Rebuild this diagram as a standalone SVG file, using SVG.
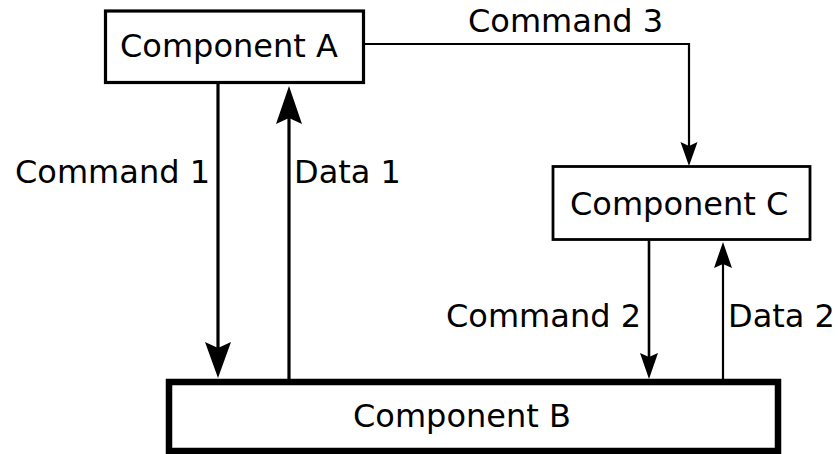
<svg xmlns="http://www.w3.org/2000/svg" width="838" height="454" viewBox="0 0 838 454">
<style>
text{font-family:"DejaVu Sans","Verdana",sans-serif;font-size:32px;fill:#000}
.box{fill:#fff;stroke:#000}
.ln{fill:none;stroke:#000}
</style>
<rect width="838" height="454" fill="#fff"/>
<g id="connectors">
  <path class="ln" d="M218,83 V350" stroke-width="3.2"/>
  <polygon points="218,378 205,342 218,348 231,342"/>
  <path class="ln" d="M289,380 V115" stroke-width="3.2"/>
  <polygon points="289,86 276,124 289,118 302,124"/>
  <path class="ln" d="M364,44 H689 V150" stroke-width="2.2"/>
  <polygon points="689,166 680.5,142 689,146 697.5,142"/>
  <path class="ln" d="M649,240 V360" stroke-width="2.6"/>
  <polygon points="649,379 640,353 649,357 658,353"/>
  <path class="ln" d="M723,380 V260" stroke-width="2.2"/>
  <polygon points="723,242 714,268 723,264 732,268"/>
  <text x="15" y="183">Command 1</text>
  <text x="294" y="183">Data 1</text>
  <text x="468" y="32">Command 3</text>
  <text x="446" y="327">Command 2</text>
  <text x="728" y="327">Data 2</text>
</g>
<g id="componentA">
  <rect class="box" x="105.5" y="11" width="258" height="71.5" stroke-width="3.2"/>
  <text x="120" y="57">Component A</text>
</g>
<g id="componentC">
  <rect class="box" x="553" y="166.5" width="257" height="73" stroke-width="2.8"/>
  <text x="570" y="215">Component C</text>
</g>
<g id="componentB">
  <rect class="box" x="169" y="382" width="609" height="69" stroke-width="6.5"/>
  <text x="353" y="427">Component B</text>
</g>
</svg>
